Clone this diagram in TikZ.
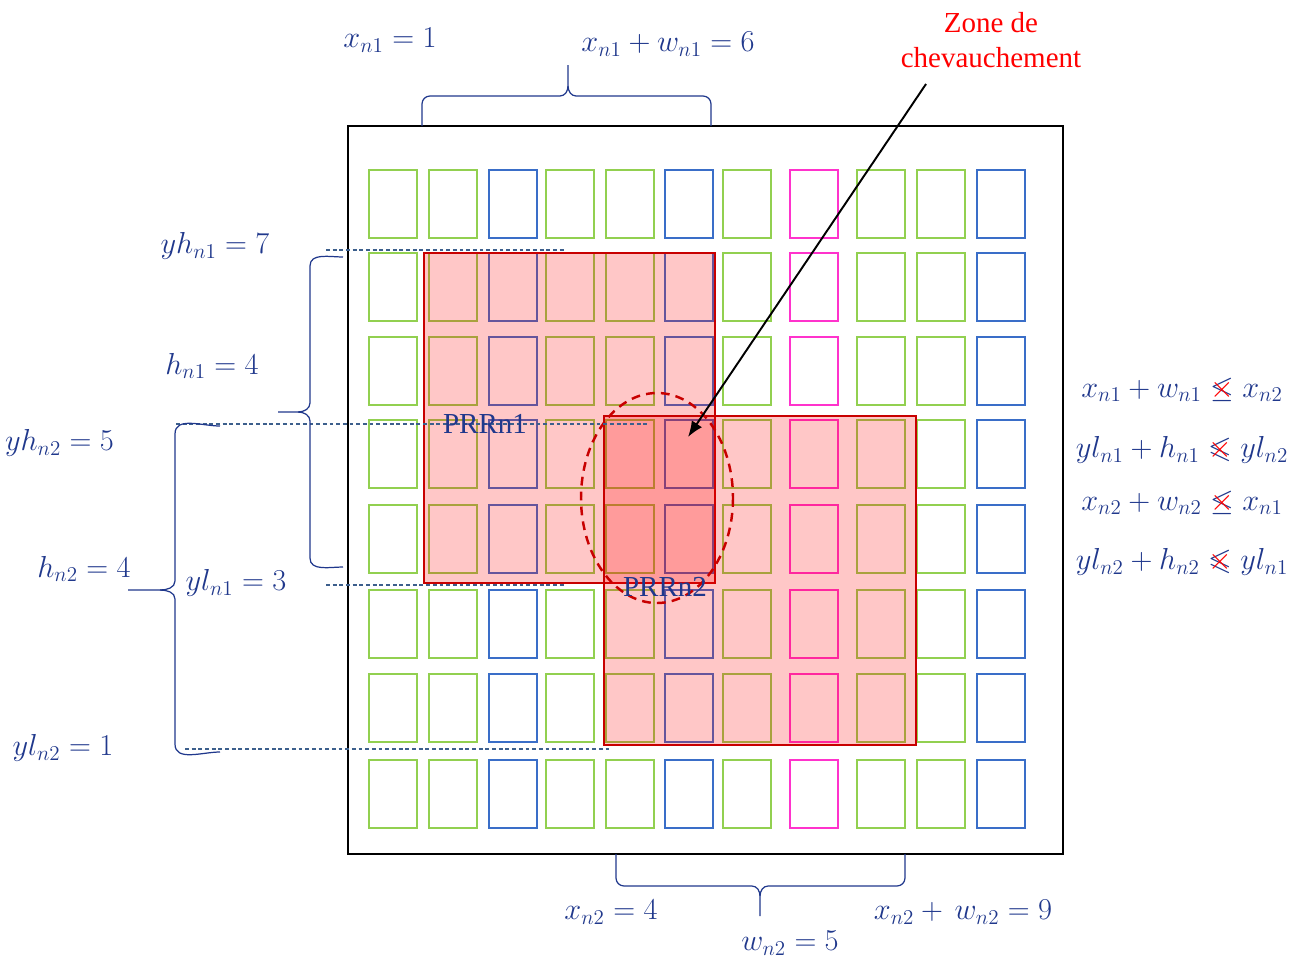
\documentclass[tikz,border=0pt]{standalone}
\usepackage{amssymb}
\usepackage{fontspec}
\newfontfamily\timesrm{Liberation Serif}
\usepackage{xcolor}
\usepackage{tikz}
\usetikzlibrary{
  arrows.meta
}
\definecolor{cverde}{RGB}{146,208,80}
\definecolor{cazul}{RGB}{58,110,200}
\definecolor{crosa}{RGB}{255,51,204}
\definecolor{crojo}{RGB}{200,0,0}
\definecolor{ctexto}{RGB}{32,56,140}
\definecolor{cguion}{RGB}{60,95,140}
\newcommand{\tachado}[1]{\mathrel{\rlap{$#1$}{\color{red}\times}}}
\tikzset{
  >=Latex,
  celda/.style={draw=#1,line width=1.4pt},
  marco/.style={draw=black,line width=1.5pt},
  prr/.style={draw=crojo,line width=1.4pt,fill=red,fill opacity=0.22},
  llave/.style={draw=ctexto,line width=0.7pt},
  guia/.style={draw=cguion,line width=0.6pt,dash pattern=on 2.2pt off 1.6pt},
  etiq/.style={text=ctexto,font=\fontsize{17.28}{20}\selectfont,inner sep=1pt},
  prrtxt/.style={text=ctexto,font=\timesrm\fontsize{16.5}{19}\selectfont,inner sep=0pt},
  zona/.style={text=red,font=\timesrm\fontsize{16.5}{20}\selectfont,align=center},
  flecha/.style={-{Latex[length=9pt,width=7pt]},line width=1.1pt}
}

\begin{document}
\begin{tikzpicture}[x=0.02cm,y=-0.02cm]
    \useasboundingbox (0,0) rectangle (1310,960);
    % Marco y celdas
    \draw[marco] (348,126) rectangle (1063,854);
    \foreach \y in {170,253,337,420,505,590,674,760}
        \foreach \x/\c in {369/cverde,429/cverde,489/cazul,546/cverde,606/cverde,665/cazul,723/cverde,790/crosa,857/cverde,917/cverde,977/cazul}
            \draw[celda=\c] (\x,\y) rectangle ++(48,68);

    % Regiones PRR
    \draw[prr] (424,253) rectangle (715,583);
    \draw[prr] (604,416) rectangle (916,745);
    \draw[crojo,line width=1.4pt,dash pattern=on 5pt off 3.5pt] (657,498) ellipse [x radius=76,y radius=105];

    % Guias
    \draw[guia] (326,250) -- (566,250);
    \draw[guia] (176,424) -- (648,424);
    \draw[guia] (326,585) -- (565,585);
    \draw[guia] (185,749) -- (612,749);

    \node[prrtxt] (prr1) at (485,424) {PRRn1};
    \node[prrtxt] (prr2) at (665,587) {PRRn2};

    % Zona de solapamiento
    \node[zona] (zona) at (991,40) {Zone de\\chevauchement};
    \coordinate (cola) at (926,84);
    \coordinate (punta) at (688,437);
    \draw[flecha] (cola) -- (punta);

    % Llaves
    \draw[llave] (422,126) -- (422,104) to[out=90,in=180] (430,96) -- (560,96) to[out=0,in=-90] (568,86) -- (568,65);
    \draw[llave] (711,126) -- (711,104) to[out=90,in=0] (703,96) -- (576,96) to[out=180,in=-90] (568,86);
    \draw[llave] (616,854) -- (616,878) to[out=-90,in=180] (624,886) -- (752,886) to[out=0,in=90] (760,896) -- (760,916);
    \draw[llave] (905,854) -- (905,878) to[out=-90,in=0] (897,886) -- (768,886) to[out=180,in=90] (760,896);
    \draw[llave] (343,257) to[out=180,in=90] (310,266) -- (310,403) to[out=-90,in=0] (298,412) -- (278,412);
    \draw[llave] (343,567) to[out=180,in=-90] (310,558) -- (310,421) to[out=90,in=0] (298,412);
    \draw[llave] (220,426) to[out=180,in=90] (175,434) -- (175,581) to[out=-90,in=0] (160,590) -- (128,590);
    \draw[llave] (220,752) to[out=180,in=-90] (175,744) -- (175,599) to[out=90,in=0] (160,590);

    % Etiquetas
    \node[etiq] (xa) at (390,40) {$x_{n1}=1$};
    \node[etiq] (xwa) at (668,44) {$x_{n1}+w_{n1}=6$};
    \node[etiq] (yha) at (215,246) {$yh_{n1}=7$};
    \node[etiq] (ha) at (212,366) {$h_{n1}=4$};
    \node[etiq,anchor=east] (yhb) at (116,443) {$yh_{n2}=5$};
    \node[etiq] (hb) at (84,569) {$h_{n2}=4$};
    \node[etiq] (yla) at (236,583) {$yl_{n1}=3$};
    \node[etiq] (ylb) at (63,748) {$yl_{n2}=1$};
    \node[etiq] (xb) at (611,912) {$x_{n2}=4$};
    \node[etiq] (wb) at (790,943) {$w_{n2}=5$};
    \node[etiq] (xwb) at (963,912) {$x_{n2}+\,w_{n2}=9$};

    \node[etiq] (c1) at (1182,390) {$x_{n1}+w_{n1}\tachado{\leq}x_{n2}$};
    \node[etiq] (c2) at (1182,450) {$yl_{n1}+h_{n1}\tachado{\leqslant}yl_{n2}$};
    \node[etiq] (c3) at (1182,503) {$x_{n2}+w_{n2}\tachado{\leq}x_{n1}$};
    \node[etiq] (c4) at (1182,562) {$yl_{n2}+h_{n2}\tachado{\leqslant}yl_{n1}$};
\end{tikzpicture}
\end{document}
